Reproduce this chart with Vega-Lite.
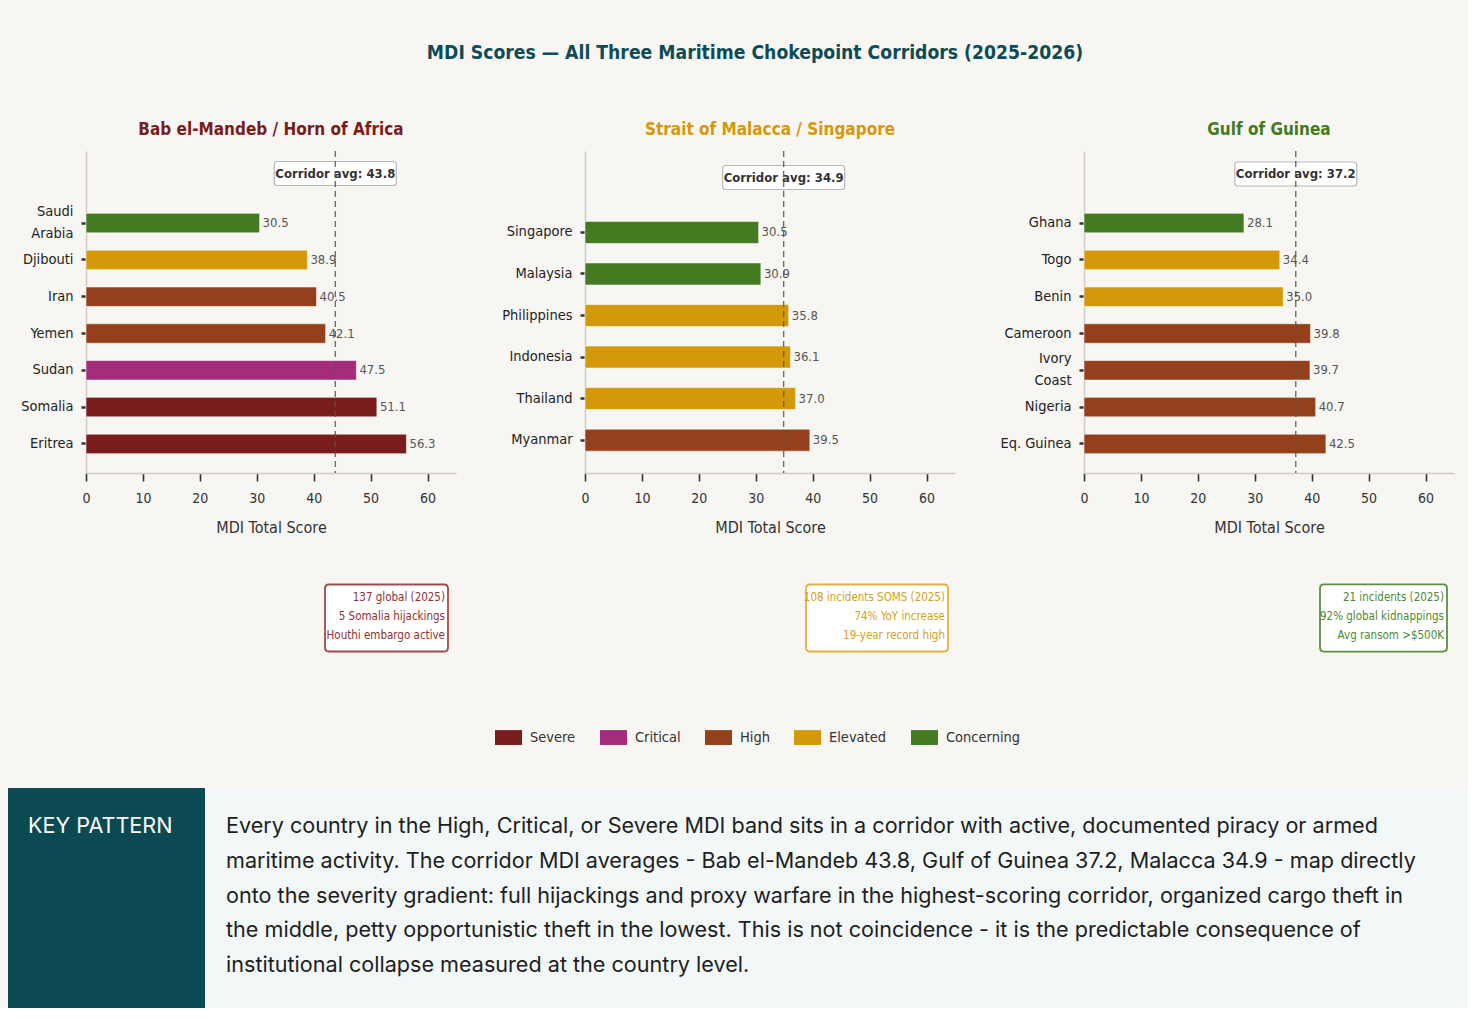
{
  "$schema": "https://vega.github.io/schema/vega-lite/v6.json",
  "background": "#f7f6f2",
  "padding": {"left": 8, "top": 44, "right": 0, "bottom": 0},
  "title": {
    "text": "MDI Scores — All Three Maritime Chokepoint Corridors (2025-2026)",
    "color": "#0d4b55",
    "fontSize": 19.2,
    "fontWeight": "bold",
    "anchor": "middle",
    "baseline": "top",
    "dx": 17,
    "offset": 57.8
  },
  "datasets": {
    "bars": [
      {"corridor": "Bab", "country": "Saudi Arabia", "score": 30.5, "band": "Concerning"},
      {"corridor": "Bab", "country": "Djibouti", "score": 38.9, "band": "Elevated"},
      {"corridor": "Bab", "country": "Iran", "score": 40.5, "band": "High"},
      {"corridor": "Bab", "country": "Yemen", "score": 42.1, "band": "High"},
      {"corridor": "Bab", "country": "Sudan", "score": 47.5, "band": "Critical"},
      {"corridor": "Bab", "country": "Somalia", "score": 51.1, "band": "Severe"},
      {"corridor": "Bab", "country": "Eritrea", "score": 56.3, "band": "Severe"},
      {"corridor": "Malacca", "country": "Singapore", "score": 30.5, "band": "Concerning"},
      {"corridor": "Malacca", "country": "Malaysia", "score": 30.9, "band": "Concerning"},
      {"corridor": "Malacca", "country": "Philippines", "score": 35.8, "band": "Elevated"},
      {"corridor": "Malacca", "country": "Indonesia", "score": 36.1, "band": "Elevated"},
      {"corridor": "Malacca", "country": "Thailand", "score": 37.0, "band": "Elevated"},
      {"corridor": "Malacca", "country": "Myanmar", "score": 39.5, "band": "High"},
      {"corridor": "Guinea", "country": "Ghana", "score": 28.1, "band": "Concerning"},
      {"corridor": "Guinea", "country": "Togo", "score": 34.4, "band": "Elevated"},
      {"corridor": "Guinea", "country": "Benin", "score": 35.0, "band": "Elevated"},
      {"corridor": "Guinea", "country": "Cameroon", "score": 39.8, "band": "High"},
      {"corridor": "Guinea", "country": "Ivory Coast", "score": 39.7, "band": "High"},
      {"corridor": "Guinea", "country": "Nigeria", "score": 40.7, "band": "High"},
      {"corridor": "Guinea", "country": "Eq. Guinea", "score": 42.5, "band": "High"}
    ],
    "avgs": [
      {"corridor": "Bab", "avg": 43.8, "label": "Corridor avg: 43.8"},
      {"corridor": "Malacca", "avg": 34.9, "label": "Corridor avg: 34.9"},
      {"corridor": "Guinea", "avg": 37.2, "label": "Corridor avg: 37.2"}
    ],
    "notes": [
      {"corridor": "Bab", "lines": ["137 global (2025)", "5 Somalia hijackings", "Houthi embargo active"]},
      {"corridor": "Malacca", "lines": ["108 incidents SOMS (2025)", "74% YoY increase", "19-year record high"]},
      {"corridor": "Guinea", "lines": ["21 incidents (2025)", "92% global kidnappings", "Avg ransom >$500K"]}
    ],
    "bands": [
      {"band": "Severe"}, {"band": "Critical"}, {"band": "High"}, {"band": "Elevated"}, {"band": "Concerning"}
    ],
    "keytext": [
      {
        "heading": "KEY PATTERN",
        "lines": [
          "Every country in the High, Critical, or Severe MDI band sits in a corridor with active, documented piracy or armed",
          "maritime activity. The corridor MDI averages - Bab el-Mandeb 43.8, Gulf of Guinea 37.2, Malacca 34.9 - map directly",
          "onto the severity gradient: full hijackings and proxy warfare in the highest-scoring corridor, organized cargo theft in",
          "the middle, petty opportunistic theft in the lowest. This is not coincidence - it is the predictable consequence of",
          "institutional collapse measured at the country level."
        ]
      }
    ]
  },
  "vconcat": [
    {
      "bounds": "flush",
      "spacing": 129,
      "hconcat": [
        {
          "width": 370,
          "height": 322,
          "title": {"text": "Bab el-Mandeb / Horn of Africa", "color": "#7a1c1c"},
          "layer": [
            {
              "data": {"name": "bars"},
              "transform": [{"filter": "datum.corridor == 'Bab'"}],
              "encoding": {
                "y": {
                  "field": "country", "type": "nominal", "sort": null,
                  "scale": {"paddingInner": 0, "paddingOuter": 0.875, "align": 0.834},
                  "axis": {
                    "title": null, "minExtent": 78,
                    "labelExpr": "datum.value == 'Saudi Arabia' ? ['Saudi', 'Arabia'] : datum.value",
                    "labelOffset": {"condition": {"test": "datum.value == 'Saudi Arabia'", "value": -11}, "value": 0}
                  }
                },
                "x": {
                  "field": "score", "type": "quantitative",
                  "scale": {"domain": [0, 65], "nice": false},
                  "axis": {"title": "MDI Total Score", "values": [0, 10, 20, 30, 40, 50, 60]}
                }
              },
              "layer": [
                {
                  "mark": {"type": "bar", "height": {"band": 0.53}, "stroke": "white", "strokeWidth": 0.8, "strokeOpacity": 0.7},
                  "encoding": {
                    "color": {
                      "field": "band", "type": "nominal", "legend": null,
                      "scale": {"domain": ["Severe", "Critical", "High", "Elevated", "Concerning"], "range": ["#7a1c1c", "#a32d7a", "#94401c", "#d4990a", "#437a22"]}
                    }
                  }
                },
                {
                  "mark": {"type": "text", "align": "left", "baseline": "middle", "dx": 3, "fontSize": 13, "color": "#555555"},
                  "encoding": {"text": {"field": "score", "type": "quantitative", "format": ".1f"}}
                }
              ]
            },
            {
              "data": {"name": "avgs"},
              "transform": [{"filter": "datum.corridor == 'Bab'"}],
              "encoding": {"x": {"field": "avg", "type": "quantitative", "title": "MDI Total Score"}},
              "layer": [
                {
                  "mark": {"type": "point", "shape": "M-0.951,-0.197H0.951Q1,-0.197 1,-0.148V0.148Q1,0.197 0.951,0.197H-0.951Q-1,0.197 -1,0.148V-0.148Q-1,-0.197 -0.951,-0.197Z", "size": 14884, "filled": true, "fill": "white", "stroke": "#b8b8b8", "strokeWidth": 1.2, "opacity": 1},
                  "encoding": {"y": {"value": 22.5}}
                },
                {
                  "mark": {"type": "text", "fontWeight": "bold", "fontSize": 13, "color": "#333333", "baseline": "middle"},
                  "encoding": {"y": {"value": 22.5}, "text": {"field": "label", "type": "nominal"}}
                },
                {
                  "mark": {"type": "rule", "color": "#555555", "strokeDash": [6, 4], "strokeWidth": 1.4, "opacity": 0.85},
                  "encoding": {}
                }
              ]
            },
            {
              "data": {"name": "notes"},
              "transform": [{"filter": "datum.corridor == 'Bab'"}],
              "layer": [
                {
                  "mark": {"type": "point", "shape": "M-0.935,-0.545H0.935Q1,-0.545 1,-0.48V0.48Q1,0.545 0.935,0.545H-0.935Q-1,0.545 -1,0.48V-0.48Q-1,-0.545 -0.935,-0.545Z", "size": 15129, "filled": true, "fill": "white", "stroke": "#a04a4a", "strokeWidth": 1.8, "opacity": 1, "xOffset": -69.5, "yOffset": 145},
                  "encoding": {"x": {"value": "width"}, "y": {"value": "height"}}
                },
                {
                  "mark": {"type": "text", "align": "right", "baseline": "middle", "fontSize": 11.5, "lineHeight": 19, "color": "#8f3131", "dx": -11, "dy": 125},
                  "encoding": {"x": {"value": "width"}, "y": {"value": "height"}, "text": {"field": "lines", "type": "nominal"}}
                }
              ]
            }
          ]
        },
        {
          "width": 370,
          "height": 322,
          "title": {"text": "Strait of Malacca / Singapore", "color": "#d4990a"},
          "layer": [
            {
              "data": {"name": "bars"},
              "transform": [{"filter": "datum.corridor == 'Malacca'"}],
              "encoding": {
                "y": {
                  "field": "country", "type": "nominal", "sort": null,
                  "scale": {"paddingInner": 0, "paddingOuter": 0.875, "align": 0.834},
                  "axis": {"title": null}
                },
                "x": {
                  "field": "score", "type": "quantitative",
                  "scale": {"domain": [0, 65], "nice": false},
                  "axis": {"title": "MDI Total Score", "values": [0, 10, 20, 30, 40, 50, 60]}
                }
              },
              "layer": [
                {
                  "mark": {"type": "bar", "height": {"band": 0.53}, "stroke": "white", "strokeWidth": 0.8, "strokeOpacity": 0.7},
                  "encoding": {
                    "color": {
                      "field": "band", "type": "nominal", "legend": null,
                      "scale": {"domain": ["Severe", "Critical", "High", "Elevated", "Concerning"], "range": ["#7a1c1c", "#a32d7a", "#94401c", "#d4990a", "#437a22"]}
                    }
                  }
                },
                {
                  "mark": {"type": "text", "align": "left", "baseline": "middle", "dx": 3, "fontSize": 13, "color": "#555555"},
                  "encoding": {"text": {"field": "score", "type": "quantitative", "format": ".1f"}}
                }
              ]
            },
            {
              "data": {"name": "avgs"},
              "transform": [{"filter": "datum.corridor == 'Malacca'"}],
              "encoding": {"x": {"field": "avg", "type": "quantitative", "title": "MDI Total Score"}},
              "layer": [
                {
                  "mark": {"type": "point", "shape": "M-0.951,-0.197H0.951Q1,-0.197 1,-0.148V0.148Q1,0.197 0.951,0.197H-0.951Q-1,0.197 -1,0.148V-0.148Q-1,-0.197 -0.951,-0.197Z", "size": 14884, "filled": true, "fill": "white", "stroke": "#b8b8b8", "strokeWidth": 1.2, "opacity": 1},
                  "encoding": {"y": {"value": 26.5}}
                },
                {
                  "mark": {"type": "text", "fontWeight": "bold", "fontSize": 13, "color": "#333333", "baseline": "middle"},
                  "encoding": {"y": {"value": 26.5}, "text": {"field": "label", "type": "nominal"}}
                },
                {
                  "mark": {"type": "rule", "color": "#555555", "strokeDash": [6, 4], "strokeWidth": 1.4, "opacity": 0.85},
                  "encoding": {}
                }
              ]
            },
            {
              "data": {"name": "notes"},
              "transform": [{"filter": "datum.corridor == 'Malacca'"}],
              "layer": [
                {
                  "mark": {"type": "point", "shape": "M-0.944,-0.472H0.944Q1,-0.472 1,-0.416V0.416Q1,0.472 0.944,0.472H-0.944Q-1,0.472 -1,0.416V-0.416Q-1,-0.472 -0.944,-0.472Z", "size": 20164, "filled": true, "fill": "white", "stroke": "#e0b040", "strokeWidth": 1.8, "opacity": 1, "xOffset": -78, "yOffset": 145},
                  "encoding": {"x": {"value": "width"}, "y": {"value": "height"}}
                },
                {
                  "mark": {"type": "text", "align": "right", "baseline": "middle", "fontSize": 11.5, "lineHeight": 19, "color": "#d6a020", "dx": -10, "dy": 125},
                  "encoding": {"x": {"value": "width"}, "y": {"value": "height"}, "text": {"field": "lines", "type": "nominal"}}
                }
              ]
            }
          ]
        },
        {
          "width": 370,
          "height": 322,
          "title": {"text": "Gulf of Guinea", "color": "#437a22"},
          "layer": [
            {
              "data": {"name": "bars"},
              "transform": [{"filter": "datum.corridor == 'Guinea'"}],
              "encoding": {
                "y": {
                  "field": "country", "type": "nominal", "sort": null,
                  "scale": {"paddingInner": 0, "paddingOuter": 0.875, "align": 0.834},
                  "axis": {
                    "title": null,
                    "labelExpr": "datum.value == 'Ivory Coast' ? ['Ivory', 'Coast'] : datum.value",
                    "labelOffset": {"condition": {"test": "datum.value == 'Ivory Coast'", "value": -11}, "value": 0}
                  }
                },
                "x": {
                  "field": "score", "type": "quantitative",
                  "scale": {"domain": [0, 65], "nice": false},
                  "axis": {"title": "MDI Total Score", "values": [0, 10, 20, 30, 40, 50, 60]}
                }
              },
              "layer": [
                {
                  "mark": {"type": "bar", "height": {"band": 0.53}, "stroke": "white", "strokeWidth": 0.8, "strokeOpacity": 0.7},
                  "encoding": {
                    "color": {
                      "field": "band", "type": "nominal", "legend": null,
                      "scale": {"domain": ["Severe", "Critical", "High", "Elevated", "Concerning"], "range": ["#7a1c1c", "#a32d7a", "#94401c", "#d4990a", "#437a22"]}
                    }
                  }
                },
                {
                  "mark": {"type": "text", "align": "left", "baseline": "middle", "dx": 3, "fontSize": 13, "color": "#555555"},
                  "encoding": {"text": {"field": "score", "type": "quantitative", "format": ".1f"}}
                }
              ]
            },
            {
              "data": {"name": "avgs"},
              "transform": [{"filter": "datum.corridor == 'Guinea'"}],
              "encoding": {"x": {"field": "avg", "type": "quantitative", "title": "MDI Total Score"}},
              "layer": [
                {
                  "mark": {"type": "point", "shape": "M-0.951,-0.197H0.951Q1,-0.197 1,-0.148V0.148Q1,0.197 0.951,0.197H-0.951Q-1,0.197 -1,0.148V-0.148Q-1,-0.197 -0.951,-0.197Z", "size": 14884, "filled": true, "fill": "white", "stroke": "#b8b8b8", "strokeWidth": 1.2, "opacity": 1},
                  "encoding": {"y": {"value": 23}}
                },
                {
                  "mark": {"type": "text", "fontWeight": "bold", "fontSize": 13, "color": "#333333", "baseline": "middle"},
                  "encoding": {"y": {"value": 23}, "text": {"field": "label", "type": "nominal"}}
                },
                {
                  "mark": {"type": "rule", "color": "#555555", "strokeDash": [6, 4], "strokeWidth": 1.4, "opacity": 0.85},
                  "encoding": {}
                }
              ]
            },
            {
              "data": {"name": "notes"},
              "transform": [{"filter": "datum.corridor == 'Guinea'"}],
              "layer": [
                {
                  "mark": {"type": "point", "shape": "M-0.937,-0.528H0.937Q1,-0.528 1,-0.465V0.465Q1,0.528 0.937,0.528H-0.937Q-1,0.528 -1,0.465V-0.465Q-1,-0.528 -0.937,-0.528Z", "size": 16129, "filled": true, "fill": "white", "stroke": "#5a9040", "strokeWidth": 1.8, "opacity": 1, "xOffset": -70.5, "yOffset": 145},
                  "encoding": {"x": {"value": "width"}, "y": {"value": "height"}}
                },
                {
                  "mark": {"type": "text", "align": "right", "baseline": "middle", "fontSize": 11.5, "lineHeight": 19, "color": "#4c8a30", "dx": -10, "dy": 125},
                  "encoding": {"x": {"value": "width"}, "y": {"value": "height"}, "text": {"field": "lines", "type": "nominal"}}
                }
              ]
            }
          ]
        }
      ]
    },
    {
      "width": 1382,
      "height": 50,
      "view": {"stroke": null},
      "data": {"name": "bands"},
      "mark": {"type": "point", "filled": true, "size": 0},
      "encoding": {
        "color": {
          "field": "band", "type": "nominal", "sort": null,
          "scale": {"domain": ["Severe", "Critical", "High", "Elevated", "Concerning"], "range": ["#7a1c1c", "#a32d7a", "#94401c", "#d4990a", "#437a22"]},
          "legend": {
            "orient": "none", "legendX": 409, "legendY": 27,
            "direction": "horizontal", "columns": 5, "title": null,
            "symbolType": "M-1,-0.55H1V0.55H-1Z", "symbolSize": 729,
            "symbolStrokeWidth": 0, "symbolOpacity": 1,
            "labelFontSize": 14.5, "labelColor": "#333333", "labelOffset": 8, "columnPadding": 24
          }
        }
      }
    },
    {
      "width": 1382,
      "height": 220,
      "view": {"stroke": null},
      "data": {"name": "keytext"},
      "layer": [
        {
          "mark": {"type": "rect", "color": "#f2f7f7"},
          "encoding": {"x": {"value": 119}, "x2": {"value": "width"}, "y": {"value": 0}, "y2": {"value": "height"}}
        },
        {
          "mark": {"type": "rect", "color": "#0b4a52"},
          "encoding": {"x": {"value": -78}, "x2": {"value": 119}, "y": {"value": 0}, "y2": {"value": "height"}}
        },
        {
          "mark": {"type": "text", "align": "left", "baseline": "middle", "font": "Inter", "fontSize": 21.6, "color": "white", "dx": -58, "dy": 39},
          "encoding": {"x": {"value": 0}, "y": {"value": 0}, "text": {"field": "heading", "type": "nominal"}}
        },
        {
          "mark": {"type": "text", "align": "left", "baseline": "middle", "font": "Inter", "fontSize": 21.6, "lineHeight": 34.8, "color": "#1e1e1e", "dx": 140, "dy": 39},
          "encoding": {"x": {"value": 0}, "y": {"value": 0}, "text": {"field": "lines", "type": "nominal"}}
        }
      ]
    }
  ],
  "spacing": 41,
  "resolve": {"legend": {"color": "independent"}},
  "config": {
    "font": "DejaVu Sans Condensed, DejaVu Sans, sans-serif",
    "view": {"stroke": null},
    "title": {"fontSize": 17, "fontWeight": "bold", "anchor": "middle", "baseline": "bottom", "offset": 11},
    "axis": {"domainColor": "#d0ccc4", "domainWidth": 1.5, "tickColor": "#333333", "labelColor": "#333333", "titleColor": "#333333", "grid": false},
    "axisX": {"tickSize": 8, "tickWidth": 1.6, "labelFontSize": 14, "labelPadding": 10, "labelFlush": false, "titleFontSize": 16, "titleFontWeight": "normal", "titlePadding": 14},
    "axisY": {"tickSize": 5, "tickWidth": 2.5, "labelFontSize": 14.5, "labelPadding": 8, "labelColor": "#222222", "labelLineHeight": 22}
  }
}
